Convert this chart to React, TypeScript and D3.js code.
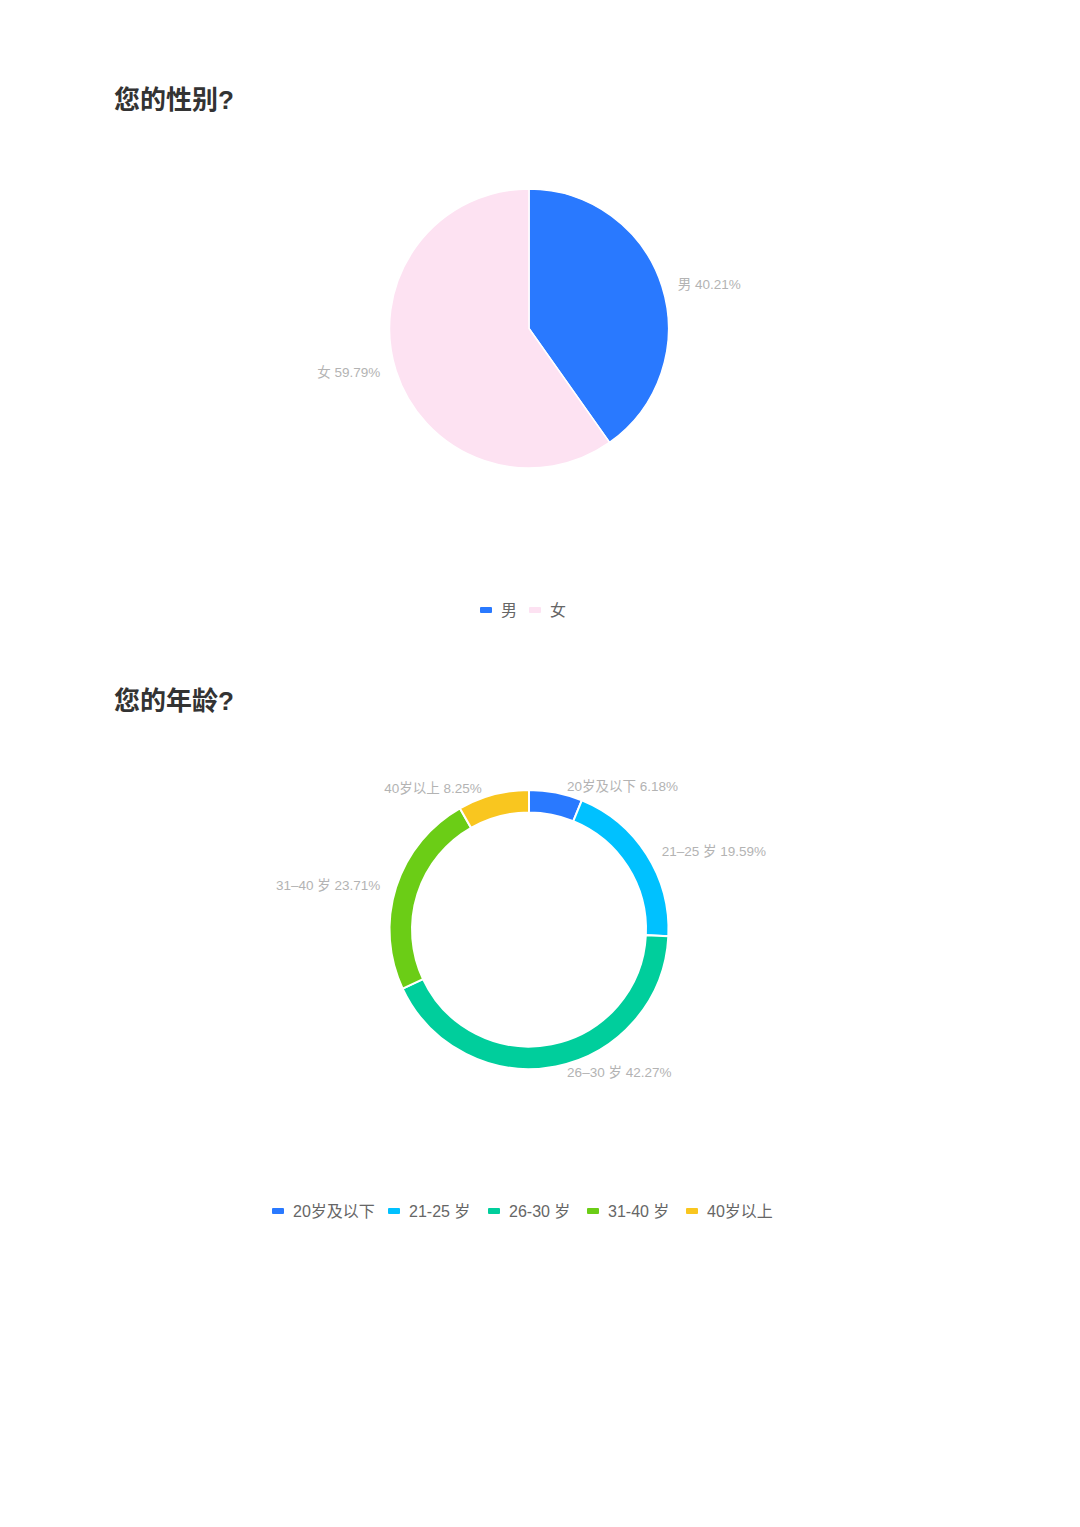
import React from 'react';
import * as d3 from 'd3';

const genderNames = ['男', '女'];
const genderValues = [40.21, 59.79];
const genderColors = ['#2979FF', '#FDE2F2'];

const ageNames = ['20岁及以下', '21-25 岁', '26-30 岁', '31-40 岁', '40岁以上'];
const ageLabels = ['20岁及以下', '21–25 岁', '26–30 岁', '31–40 岁', '40岁以上'];
const ageValues = [6.18, 19.59, 42.27, 23.71, 8.25];
const ageColors = ['#2979FF', '#00C1FF', '#00CE9C', '#6BCD16', '#F9C61F'];

const FONT = '"Liberation Sans", "Noto Sans CJK SC", sans-serif';

type Slice = { name: string; label: string; value: number; color: string };

const PieBlock: React.FC<{
  title: string;
  titleY: number;
  cy: number;
  inner: number;
  slices: Slice[];
  legendY: number;
  legendXs: number[];
}> = ({ title, titleY, cy, inner, slices, legendY, legendXs }) => {
  const cx = 529;
  const outer = 139.5;
  const pie = d3
    .pie<Slice>()
    .sort(null)
    .value((d) => d.value);
  const arcs = pie(slices);
  const arc = d3.arc<d3.PieArcDatum<Slice>>().innerRadius(inner).outerRadius(outer);
  const labelR = outer + 6;

  return (
    <g>
      <text x={114} y={titleY} fontSize={26} fontWeight="bold" fill="#333" fontFamily={FONT}>
        {title}
      </text>
      <g transform={`translate(${cx},${cy})`}>
        {arcs.map((a, i) => (
          <path key={i} d={arc(a) || ''} fill={a.data.color} stroke="#fff" strokeWidth={inner > 0 ? 2 : 1.5} />
        ))}
        {arcs.map((a, i) => {
          const mid = (a.startAngle + a.endAngle) / 2;
          const sx = Math.sin(mid);
          const sy = -Math.cos(mid);
          const right = sx >= 0;
          const x = sx * labelR + (right ? 10 : -10);
          const y = sy * labelR;
          return (
            <text
              key={i}
              x={x}
              y={y}
              textAnchor={right ? 'start' : 'end'}
              dominantBaseline="central"
              fontSize={13.5}
              fill="#b3b3b3"
              fontFamily={FONT}
            >
              {`${a.data.label} ${a.data.value.toFixed(2)}%`}
            </text>
          );
        })}
      </g>
      {slices.map((s, i) => (
        <g key={i} transform={`translate(${legendXs[i]},${legendY})`}>
          <rect x={0} y={-3} width={12} height={6} rx={1} fill={s.color} />
          <text x={21} y={0} dominantBaseline="central" fontSize={16} fill="#666" fontFamily={FONT}>
            {s.name}
          </text>
        </g>
      ))}
    </g>
  );
};

const App: React.FC = () => {
  const genderSlices: Slice[] = genderNames.map((n, i) => ({
    name: n,
    label: n,
    value: genderValues[i],
    color: genderColors[i],
  }));
  const ageSlices: Slice[] = ageNames.map((n, i) => ({
    name: n,
    label: ageLabels[i],
    value: ageValues[i],
    color: ageColors[i],
  }));

  return (
    <svg
      width={1080}
      height={1527}
      style={{ position: 'absolute', left: 0, top: 0, background: '#fff' }}
    >
      <rect width={1080} height={1527} fill="#fff" />
      <PieBlock
        title="您的性别?"
        titleY={109}
        cy={328.5}
        inner={0}
        slices={genderSlices}
        legendY={610}
        legendXs={[480, 529]}
      />
      <PieBlock
        title="您的年龄?"
        titleY={710}
        cy={929.5}
        inner={117}
        slices={ageSlices}
        legendY={1211}
        legendXs={[272, 388, 488, 587, 686]}
      />
    </svg>
  );
};

export default App;
